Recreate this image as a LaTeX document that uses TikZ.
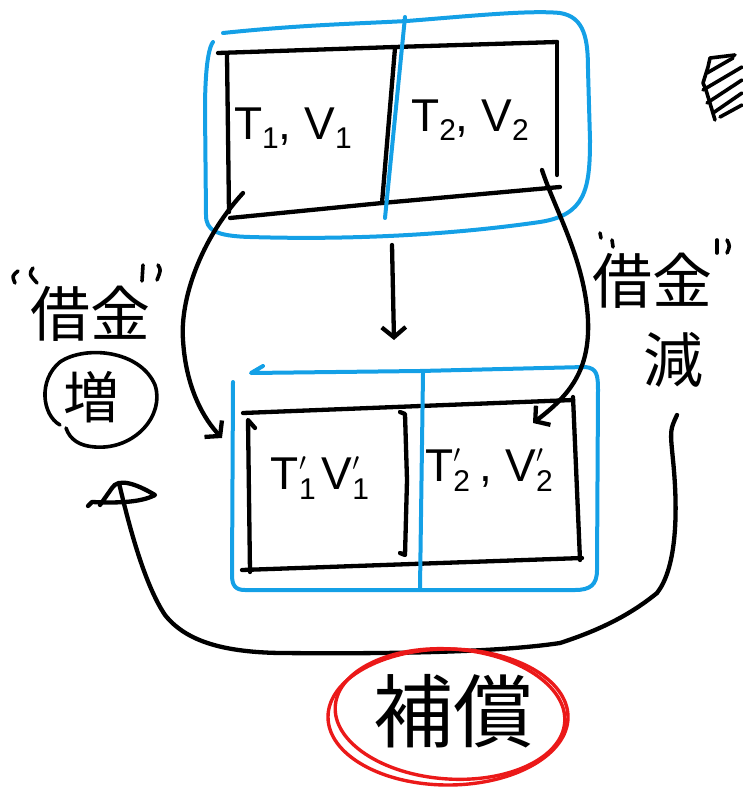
\documentclass[tikz,border=0pt]{standalone}
\usepackage{fontspec}
\setmainfont{Liberation Sans}
\newfontfamily\cjk{Noto Sans CJK JP}
\usetikzlibrary{arrows.meta}
\definecolor{penblue}{RGB}{20,160,230}
\definecolor{penred}{RGB}{235,25,25}
\newcommand{\lowidx}[1]{\raisebox{-0.2em}{\fontsize{30}{30}\selectfont #1}}
\newcommand{\lowidxp}[1]{\rlap{\raisebox{0.42em}{\fontsize{50}{50}\selectfont$\prime$}}\raisebox{-0.2em}{\fontsize{30}{30}\selectfont #1}}
\tikzset{
  ink/.style={line width=4.3pt, line cap=round, line join=round, black},
  thinink/.style={line width=3.6pt, line cap=round, line join=round, black},
  bluepen/.style={line width=4pt, line cap=round, line join=round, penblue},
  redpen/.style={line width=3.4pt, line cap=round, penred},
  barb/.style={-{Straight Barb[length=10pt,width=24pt]}},
  lbl/.style={inner sep=0pt, font=\fontsize{46}{46}\selectfont},
  kanji/.style={inner sep=0pt, font=\cjk\fontsize{60}{60}\selectfont},
  bigkanji/.style={inner sep=0pt, font=\cjk\fontsize{80}{80}\selectfont},
}
\begin{document}
\begin{tikzpicture}[x=1pt,y=-1pt]
\useasboundingbox (0,0) rectangle (742,789);

% ---------- top system ----------
\draw[bluepen] (223,33) .. controls (300,25) and (350,24) .. (407,21)
  .. controls (470,16) and (530,10) .. (560,13)
  .. controls (585,17) and (588,40) .. (588,70) -- (590,140)
  .. controls (590,190) and (585,215) .. (540,222)
  .. controls (450,235) and (350,240) .. (250,237)
  .. controls (215,236) and (206,230) .. (206,215) -- (205,110)
  .. controls (205,80) and (207,50) .. (213,42);
\draw[ink] (218,53) -- (395,47) -- (557,42);
\draw[ink] (557,42) -- (557,175);
\draw[ink] (227,55) -- (229,212);
\draw[ink] (230,218) -- (382,203) -- (560,187);
\draw[ink] (395,48) -- (382,203);
\draw[bluepen] (405,17) -- (385,218);

\node[lbl] (t1) at (293,128) {T\lowidx{1}, V\lowidx{1}};
\node[lbl] (t2) at (470,120) {T\lowidx{2}, V\lowidx{2}};

% ---------- bottom system ----------
\draw[bluepen] (263,366) -- (251,373) -- (420,371) -- (585,367)
  .. controls (597,368) and (598,375) .. (598,390) -- (597,570)
  .. controls (597,585) and (590,590) .. (575,590) -- (245,590)
  .. controls (235,590) and (232,585) .. (232,575) -- (233,382);
\draw[ink] (243,413) -- (573,400);
\draw[ink] (573,397) -- (580,560);
\draw[ink] (242,570) -- (582,558);
\draw[ink] (255,428) -- (248,420) -- (250,572);
\draw[ink] (400,412) -- (405,414) -- (407,480) -- (405,555) -- (400,553);
\draw[bluepen] (423,373) -- (420,588);

\node[lbl] (t1p) at (320,478) {T\lowidxp{1}\hspace{6pt}V\lowidxp{1}\hspace{10pt}};
\node[lbl] (t2p) at (489,470) {T\lowidxp{2}\hspace{10pt}, V\lowidxp{2}\hspace{10pt}};

% ---------- arrows between systems ----------
\coordinate (dA) at (392,245);
\coordinate (dB) at (394,340);
\draw[ink,barb] (dA) -- (dB);

\coordinate (lA) at (243,193);
\coordinate (lB) at (222,438);
\draw[ink,barb] (lA) .. controls (200,240) and (180,300) .. (183,340)
  .. controls (186,390) and (205,420) .. (lB);

\coordinate (rA) at (542,170);
\coordinate (rB) at (533,423);
\draw[ink,barb] (rA) .. controls (555,210) and (585,260) .. (588,320)
  .. controls (590,370) and (570,395) .. (rB);

% ---------- left label ----------
\node[kanji] (kl) at (90,314) {借金};
\draw[thinink] (18,271) .. controls (12,276) .. (15,283);
\draw[thinink] (33,268) .. controls (29,274) .. (37,283);
\draw[thinink] (143,265) -- (142,281);
\draw[thinink] (158,265) .. controls (161,270) .. (157,280);
\node[kanji, font=\cjk\fontsize{56}{56}\selectfont] (zo) at (91,397) {増};
\draw[thinink] (60,425) .. controls (42,415) and (38,380) .. (60,362)
  .. controls (85,345) and (140,350) .. (155,385)
  .. controls (165,415) and (135,450) .. (95,447)
  .. controls (80,446) and (70,440) .. (66,428);

% ---------- right label ----------
\node[kanji] (kr) at (652,281) {借金};
\node[kanji] (gen) at (673,360) {減};
\draw[thinink] (600,233) -- (601,238);
\draw[thinink] (612,240) -- (613,247);
\draw[thinink] (717,240) -- (717,253);
\draw[thinink] (727,240) .. controls (730,246) .. (727,253);

% ---------- compensation loop ----------
\coordinate (loopA) at (677,415);
\coordinate (loopB) at (119,483);
\draw[ink] (loopA) .. controls (670,430) .. (673,460)
  .. controls (679,520) and (675,570) .. (657,593)
  .. controls (630,615) and (600,630) .. (560,643)
  .. controls (500,652) and (400,654) .. (280,653)
  .. controls (220,652) and (185,640) .. (165,615)
  .. controls (145,585) and (130,530) .. (loopB);
\draw[ink] (100,505) -- (112,488) .. controls (118,478) and (135,483) .. (155,495)
  .. controls (140,503) and (115,503) .. (92,502) -- (88,506);

\node[bigkanji] (hosho) at (453,711) {補償};
\draw[redpen] (448,717) ellipse [x radius=120, y radius=68];
\draw[redpen, rotate around={-4:(450,714)}] (450,714) ellipse [x radius=115, y radius=65];

% ---------- hatched mark, top right ----------
\draw[thinink] (715,120) -- (706,90) -- (703,83) -- (708,67) -- (710,58) -- (735,55);
\draw[thinink] (707,73) -- (733,58);
\draw[thinink] (703,90) -- (742,67);
\draw[thinink] (707,103) -- (742,80);
\draw[thinink] (713,113) -- (742,93);
\draw[thinink] (720,117) -- (742,105);
\end{tikzpicture}
\end{document}
